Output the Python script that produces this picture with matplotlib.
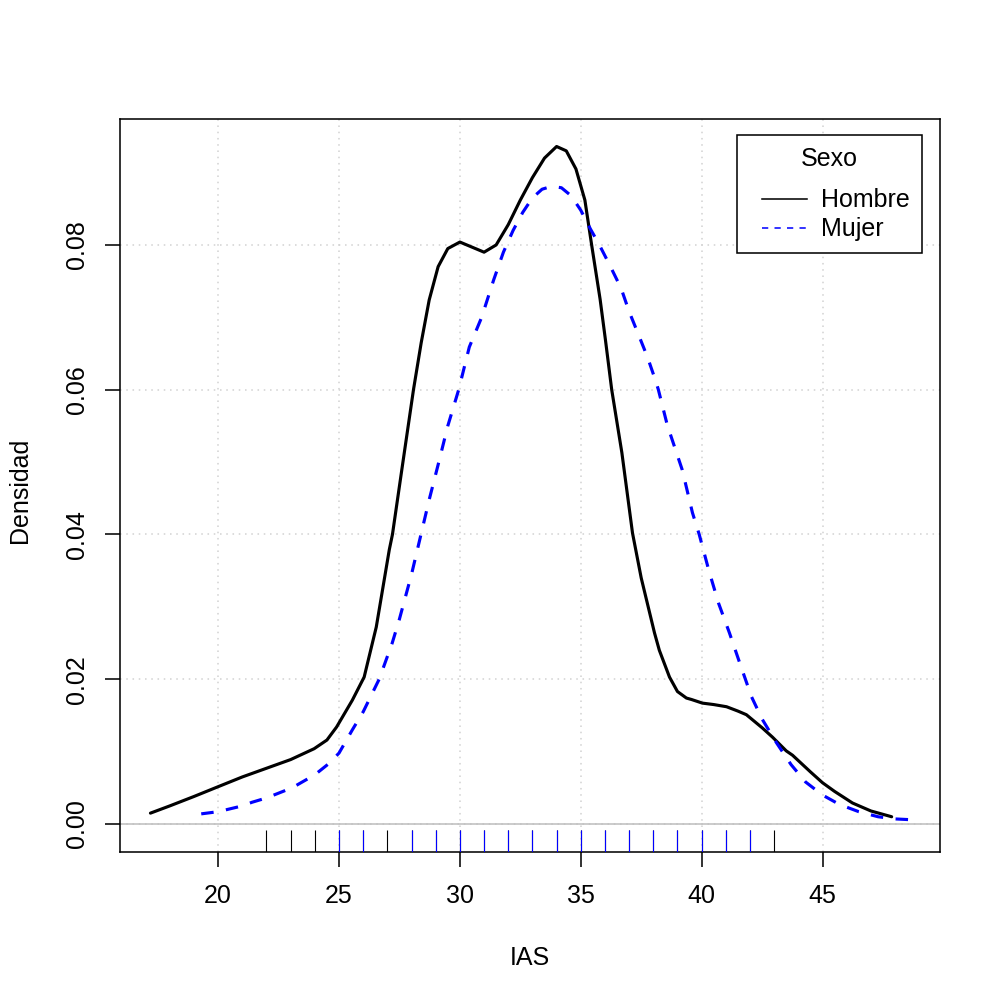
import matplotlib
matplotlib.use('Agg')
import matplotlib.pyplot as plt
from matplotlib.lines import Line2D
from matplotlib.legend_handler import HandlerLine2D

# ---- data ----
hombre_x = [17.2, 18.0, 19.0, 19.96, 21.0, 22.0, 23.0, 23.97, 24.5, 24.9, 25.55, 26.04,
            26.54, 27.08, 27.21, 27.6, 28.08, 28.4, 28.73, 29.1, 29.5, 30.0, 30.5, 31.0,
            31.5, 32.0, 32.5, 33.0, 33.5, 34.0, 34.4, 34.8, 35.17, 35.45, 35.8, 36.02,
            36.28, 36.7, 37.14, 37.5, 38.05, 38.25, 38.67, 39.0, 39.37, 39.58, 40.03,
            40.5, 41.03, 41.5, 41.85, 42.5, 42.93, 43.5, 43.76, 44.5, 45.0, 45.5, 46.24,
            47.0, 47.86]
hombre_y = [0.0015, 0.0025, 0.0038, 0.0051, 0.0065, 0.0077, 0.0089, 0.0104, 0.0116, 0.0134,
            0.0171, 0.0203, 0.0272, 0.0379, 0.0400, 0.0490, 0.0600, 0.0665, 0.0724, 0.0770,
            0.0795, 0.0804, 0.0797, 0.0790, 0.0800, 0.0828, 0.0862, 0.0893, 0.0920, 0.0936,
            0.0930, 0.0905, 0.0862, 0.0800, 0.0725, 0.0669, 0.0600, 0.0513, 0.0402, 0.0340,
            0.0264, 0.0240, 0.0203, 0.0183, 0.0174, 0.0172, 0.0167, 0.0165, 0.0162, 0.0156,
            0.0151, 0.0133, 0.0120, 0.0101, 0.0095, 0.0072, 0.0057, 0.0045, 0.0029, 0.0018,
            0.0010]

mujer_x = [19.3, 20.0, 21.0, 21.4, 22.0, 23.06, 24.0, 24.6, 25.0, 25.55, 26.0, 26.66,
           27.2, 27.49, 28.0, 28.39, 28.73, 29.15, 29.5, 29.95, 30.39, 30.9, 31.4, 31.8,
           32.2, 32.6, 33.0, 33.4, 33.8, 34.2, 34.6, 35.0, 35.4, 35.77, 36.2, 36.67, 37.0,
           37.34, 37.76, 38.09, 38.21, 38.58, 39.2, 39.62, 39.9, 40.3, 40.7, 41.15, 41.56,
           42.06, 42.5, 43.1, 43.7, 44.3, 45.0, 45.7, 46.5, 47.3, 48.0, 48.6]
mujer_y = [0.0014, 0.0017, 0.0025, 0.0030, 0.0036, 0.0050, 0.0068, 0.0084, 0.0098, 0.0130,
           0.0155, 0.0200, 0.0250, 0.0282, 0.0345, 0.0400, 0.0448, 0.0503, 0.0550, 0.0600,
           0.0659, 0.0700, 0.0752, 0.0790, 0.0820, 0.0845, 0.0865, 0.0877, 0.0881, 0.0879,
           0.0868, 0.0848, 0.0822, 0.0800, 0.0772, 0.0740, 0.0708, 0.0680, 0.0645, 0.0613,
           0.0600, 0.0551, 0.0489, 0.0430, 0.0400, 0.0350, 0.0305, 0.0264, 0.0224, 0.0176,
           0.0145, 0.0112, 0.0082, 0.0058, 0.0040, 0.0027, 0.0017, 0.0010, 0.0007, 0.0006]

rug_hombre = [22, 23, 24, 25, 26, 27, 28, 29, 30, 31, 32, 33, 34, 35, 36, 37, 38, 39, 40,
              41, 42, 43]
rug_mujer = [25, 26, 28, 29, 30, 31, 32, 33, 34, 35, 36, 37, 38, 39, 40, 41, 42]

x_ticks = [20, 25, 30, 35, 40, 45]
y_ticks = [0.00, 0.02, 0.04, 0.06, 0.08]
y_tick_labels = ["0.00", "0.02", "0.04", "0.06", "0.08"]
series_labels = ["Hombre", "Mujer"]
legend_title = "Sexo"
x_label = "IAS"
y_label = "Densidad"

# ---- styling ----
plt.rcParams['font.family'] = ['Liberation Sans', 'DejaVu Sans']
FS = 18
LWD = 1.125  # R lwd=1 at res 150, in points at dpi 100

fig = plt.figure(figsize=(10, 10), dpi=100)
ax = fig.add_axes([0.12, 0.148, 0.82, 0.733])
ax.set_xlim(15.94, 49.86)
ax.set_ylim(-0.00387, 0.0974)

# grid
for xv in x_ticks:
    ax.axvline(xv, color='#D3D3D3', lw=LWD, dashes=(1, 3), zorder=1)
for yv in y_ticks:
    ax.axhline(yv, color='#D3D3D3', lw=LWD, dashes=(1, 3), zorder=1)

# zero line
ax.axhline(0, color='#BEBEBE', lw=LWD, zorder=2)

# curves
ax.plot(hombre_x, hombre_y, color='black', lw=2 * LWD, solid_joinstyle='round',
        solid_capstyle='round', zorder=3)
ax.plot(mujer_x, mujer_y, color='blue', lw=2 * LWD, dashes=(4, 4), zorder=4)

# rugs
trans = ax.get_xaxis_transform()
ax.vlines(rug_hombre, 0, 0.03, transform=trans, color='black', lw=0.8, zorder=5)
ax.vlines(rug_mujer, 0, 0.03, transform=trans, color='blue', lw=0.8, zorder=6)

# axes
for sp in ax.spines.values():
    sp.set_linewidth(LWD)
    sp.set_color('black')
ax.set_xticks(x_ticks)
ax.set_xticklabels([str(v) for v in x_ticks])
ax.set_yticks(y_ticks)
ax.set_yticklabels(y_tick_labels)
ax.tick_params(axis='both', direction='out', length=10.5, width=LWD, labelsize=FS,
               colors='black')
ax.tick_params(axis='x', pad=12.5)
ax.tick_params(axis='y', pad=11.5)
for lab in ax.get_yticklabels():
    lab.set_rotation(90)
    lab.set_va('center')
    lab.set_ha('right')

fig.text(0.53, 0.042, x_label, ha='center', va='center', fontsize=FS)
fig.text(0.02, 0.51, y_label, ha='center', va='center', rotation=90, fontsize=FS)

# legend
handles = [Line2D([], [], color='black', lw=LWD),
           Line2D([], [], color='blue', lw=LWD, dashes=(4, 4))]
leg = ax.legend(handles, series_labels, title=legend_title, loc='upper right',
                bbox_to_anchor=(0.978, 0.978), borderaxespad=0, fontsize=FS,
                title_fontsize=FS, frameon=True, fancybox=False, framealpha=1,
                edgecolor='black', borderpad=0.48, handlelength=2.32,
                handletextpad=0.56, labelspacing=0.2,
                handler_map={Line2D: HandlerLine2D(xpad=0.52)})
leg.get_frame().set_linewidth(LWD)
leg._legend_box.sep = 12.5
leg.set_zorder(10)

fig.savefig('out.png', dpi=100, facecolor='white')
